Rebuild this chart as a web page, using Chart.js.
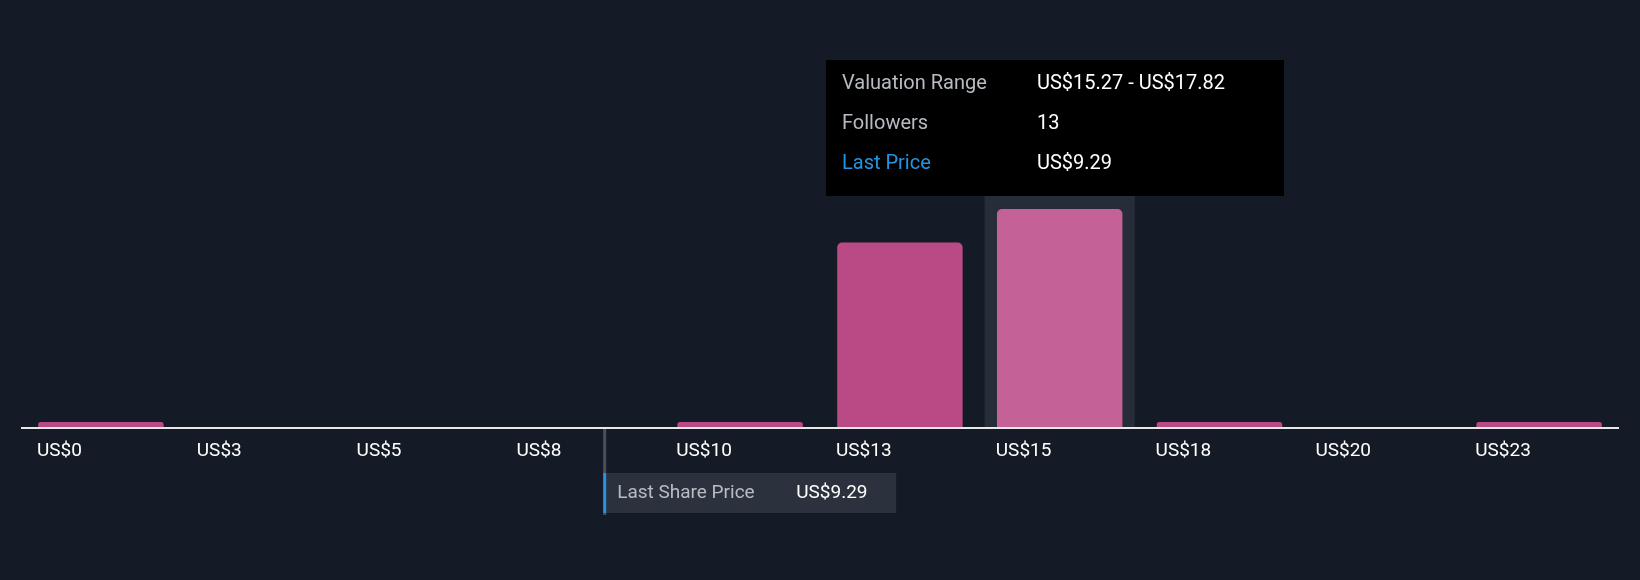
<!DOCTYPE html>
<html><head><meta charset="utf-8">
<script src="https://cdn.jsdelivr.net/npm/chart.js@4"></script>
<style>html,body{margin:0;background:#151b26}canvas{display:block}</style>
</head><body>
<div style="width:1640px;height:580px"><canvas id="c"></canvas></div>
<script>
// fair value distribution, bins of US$2.55
var labels = ['US$0','US$3','US$5','US$8','US$10','US$13','US$15','US$18','US$20','US$23'];
var followers = [0.3,0,0,0,0.3,11,13,0.3,0,0.3];
var binSize = 2.55;
var lastPrice = 9.29;
var hovered = 6;

var colors = followers.map(function(v,i){ return i == hovered ? '#c46196' : '#b94a86'; });

var overlay = {
  id: 'overlay',
  beforeDatasetsDraw: function(chart){
    var ctx = chart.ctx, x = chart.scales.x, a = chart.chartArea;
    var w = x.width / labels.length;
    var cx = x.getPixelForValue(hovered);
    ctx.fillStyle = '#272d38';
    ctx.fillRect(cx - 0.47*w, 196, 0.94*w, a.bottom - 196);
  },
  afterDatasetsDraw: function(chart){
    var ctx = chart.ctx, x = chart.scales.x, a = chart.chartArea;
    var w = x.width / labels.length;
    // baseline
    ctx.fillStyle = '#e8e8e8';
    ctx.fillRect(a.left, a.bottom, a.right - a.left, 2);
    // tick labels at bar left edge
    ctx.font = '19px Roboto';
    ctx.textBaseline = 'middle';
    ctx.textAlign = 'left';
    ctx.fillStyle = '#ffffff';
    labels.forEach(function(l,i){
      ctx.fillText(l, x.getPixelForValue(i) - 0.4*w, a.bottom + 24);
    });
    // last price marker
    var px = x.getPixelForValue(0) - w/2 + lastPrice / binSize * w;
    ctx.fillStyle = '#4a505a';
    ctx.fillRect(px, a.bottom + 2, 3, 86);
    ctx.fillStyle = '#2c323d';
    ctx.fillRect(px, 473, 293, 40);
    ctx.fillStyle = '#2394df';
    ctx.fillRect(px, 473, 3, 40);
    ctx.fillStyle = '#b8bcc2';
    ctx.fillText('Last Share Price', px + 14, 493);
    ctx.fillStyle = '#ffffff';
    ctx.fillText('US$9.29', px + 193, 493);
    // tooltip
    ctx.fillStyle = '#000000';
    ctx.fillRect(826, 60, 458, 136);
    ctx.font = '20px Roboto';
    var rows = [['Valuation Range','US$15.27 - US$17.82','#b8bcc2'],['Followers','13','#b8bcc2'],['Last Price','US$9.29','#2394df']];
    rows.forEach(function(r,i){
      var y = 84 + i*40;
      ctx.fillStyle = r[2];
      ctx.fillText(r[0], 842, y);
      ctx.fillStyle = '#ffffff';
      ctx.fillText(r[1], 1037, y);
    });
  }
};

new Chart('c', {
  type: 'bar',
  data: {
    labels: labels,
    datasets: [{
      data: followers,
      backgroundColor: colors,
      borderRadius: 5,
      borderSkipped: 'bottom',
      barPercentage: 0.785,
      categoryPercentage: 1
    }]
  },
  options: {
    responsive: true,
    maintainAspectRatio: false,
    animation: false,
    events: [],
    layout: { padding: { left: 21, right: 21, top: 209, bottom: 153 } },
    plugins: { legend: { display: false }, tooltip: { enabled: false } },
    scales: {
      x: { display: false, offset: true },
      y: { display: false, min: 0, max: 13 }
    }
  },
  plugins: [overlay]
});
</script>
</body></html>
